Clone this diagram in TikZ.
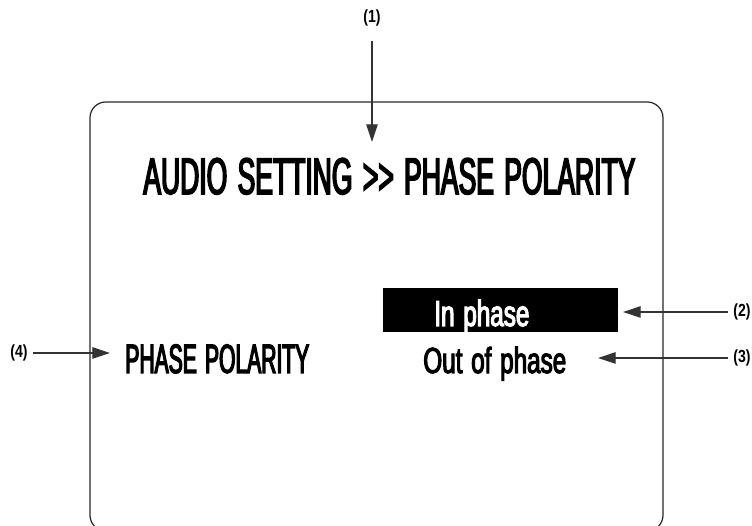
\documentclass[tikz,border=0pt]{standalone}
\usepackage{fontspec}
\usepackage{tikz}
\usetikzlibrary{arrows.meta}
\newfontfamily\capsfont[FakeStretch=0.515, FakeBold=3, WordSpace=1.4]{Liberation Sans}
\newfontfamily\lowfont[FakeStretch=0.67, FakeBold=3, WordSpace=1.3]{Liberation Sans}
\newfontfamily\tagfont[FakeStretch=0.80]{Liberation Sans}

\begin{document}
\begin{tikzpicture}[
  x=0.02cm, y=-0.02cm,
  >={Triangle[length=10pt,width=6.5pt]},
  menutext/.style={inner sep=0pt, anchor=base west},
  tagtext/.style={inner sep=1pt, font=\tagfont\bfseries\fontsize{10}{12}\selectfont},
  callout/.style={->, draw=black!80, line width=0.6pt}
]
  \clip (0,0) rectangle (752,526);
  % screen frame, bottom runs off the page
  \draw[black!85, line width=0.7pt, rounded corners=9pt] (90,102) rectangle (663,531);
  % selected item bar
  \fill[black] (383,288) rectangle (618,332);

  \node[menutext, font=\capsfont\fontsize{29.3}{32}\selectfont] (title) at (143,194) {AUDIO SETTING >{}> PHASE POLARITY};
  \node[menutext, font=\capsfont\fontsize{23.3}{26}\selectfont] (item) at (125,373) {PHASE POLARITY};
  \node[menutext, text=white, font=\lowfont\fontsize{20.6}{24}\selectfont] (inph) at (434,326) {In phase};
  \node[menutext, font=\lowfont\fontsize{20.6}{24}\selectfont] (outph) at (423,373) {Out of phase};

  \node[tagtext] (lbl1) at (372,18) {(1)};
  \node[tagtext] (lbl2) at (742,312) {(2)};
  \node[tagtext] (lbl3) at (742,358) {(3)};
  \node[tagtext] (lbl4) at (19,353) {(4)};

  \coordinate (tip1) at (372,142);
  \coordinate (tip2) at (623,312);
  \coordinate (tip3) at (598,358);
  \coordinate (tip4) at (110,353);

  \draw[callout, shorten <=7pt] (lbl1) -- (tip1);
  \draw[callout, shorten <=2pt] (lbl2) -- (tip2);
  \draw[callout, shorten <=2pt] (lbl3) -- (tip3);
  \draw[callout, shorten <=2pt] (lbl4) -- (tip4);
\end{tikzpicture}
\end{document}
